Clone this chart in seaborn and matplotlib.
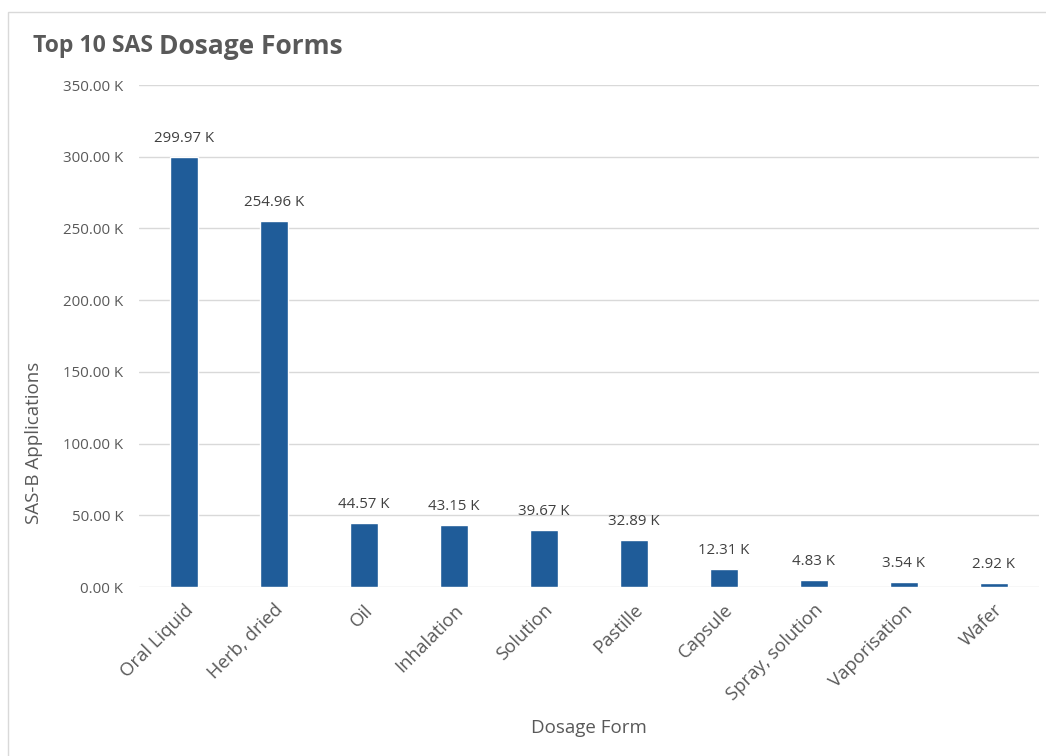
import matplotlib
matplotlib.use("Agg")
import matplotlib.pyplot as plt
import seaborn as sns
import pandas as pd
from matplotlib.patches import Rectangle

categories = ["Oral Liquid", "Herb, dried", "Oil", "Inhalation", "Solution",
              "Pastille", "Capsule", "Spray, solution", "Vaporisation", "Wafer"]
values_k = [299.97, 254.96, 44.57, 43.15, 39.67, 32.89, 12.31, 4.83, 3.54, 2.92]
y_ticks_k = [0, 50, 100, 150, 200, 250, 300, 350]

sns.set_theme(style="white")
plt.rcParams['font.family'] = ['Open Sans', 'DejaVu Sans']

gray = "#595959"
bar_color = "#1F5C99"

fig = plt.figure(figsize=(10.46, 7.56), dpi=100)
ax = fig.add_axes([0.133, 0.2235, 0.86, 0.664])

df = pd.DataFrame({"Dosage Form": categories, "SAS-B Applications": values_k})
sns.barplot(data=df, x="Dosage Form", y="SAS-B Applications", color=bar_color,
            width=0.31, saturation=1, ax=ax, zorder=3)

ax.set_ylim(0, 350)
ax.set_xlim(-0.5, len(categories) - 0.5)
ax.set_yticks(y_ticks_k)
ax.set_yticklabels([f"{v:.2f} K" for v in y_ticks_k], fontsize=10.8, color=gray)
ax.yaxis.grid(True, color="#D9D9D9", linewidth=1, zorder=0)
ax.xaxis.grid(False)
for s in ax.spines.values():
    s.set_visible(False)
ax.tick_params(axis="y", length=0, pad=11.5)
ax.tick_params(axis="x", length=0, pad=10)
ax.set_xticks(range(len(categories)))
ax.set_xticklabels(categories, rotation=45, ha="right", rotation_mode="anchor",
                   fontsize=13.3, color=gray)

for i, v in enumerate(values_k):
    ax.annotate(f"{v:.2f} K", (i, v), xytext=(0, 8), textcoords="offset points",
                ha="center", va="bottom", fontsize=10.8, color="#404040")

ax.set_ylabel("SAS-B Applications", fontsize=13.5, color=gray)
ax.yaxis.set_label_coords(-0.107, (587 - 443) / 502)
ax.set_xlabel("Dosage Form", fontsize=13.5, color=gray)
ax.xaxis.set_label_coords((589 - 139) / 900, -(719 - 587) / 502)

# chart border
fig.patches.append(Rectangle((8 / 1046, -0.01), 1.02, 1 - 12 / 756 + 0.01,
                             transform=fig.transFigure, fill=False,
                             edgecolor="#D9D9D9", linewidth=1))

t1 = fig.text(33 / 1046, 1 - 46 / 756, "Top 10 SAS ", fontsize=16.6,
              fontweight="bold", color=gray, va="center", ha="left")
fig.canvas.draw()
bb = t1.get_window_extent()
fig.text(bb.x1 / 1046, 1 - 46 / 756, "Dosage Forms", fontsize=19,
         fontweight="bold", color=gray, va="center", ha="left")

fig.savefig("out.png", dpi=100)
